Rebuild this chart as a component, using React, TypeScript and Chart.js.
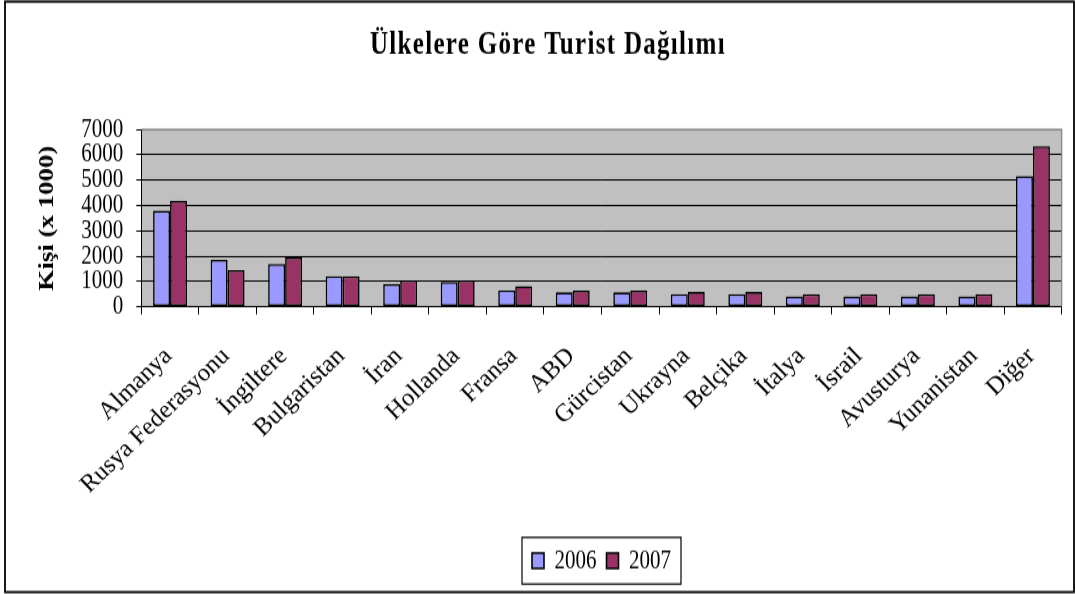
import React, { useEffect, useRef } from 'react';
import { Chart, registerables } from 'chart.js';

Chart.register(...registerables);

const categories = [
  'Almanya', 'Rusya Federasyonu', 'İngiltere', 'Bulgaristan', 'İran', 'Hollanda', 'Fransa', 'ABD',
  'Gürcistan', 'Ukrayna', 'Belçika', 'İtalya', 'İsrail', 'Avusturya', 'Yunanistan', 'Diğer',
];
const values2006 = [3790, 1850, 1690, 1210, 900, 980, 650, 570, 570, 500, 500, 410, 410, 410, 410, 5160];
const values2007 = [4180, 1450, 1950, 1210, 1040, 1040, 815, 645, 645, 580, 580, 500, 500, 500, 500, 6330];
const seriesLabels = ['2006', '2007'];
const yTicks = { min: 0, max: 7000, step: 1000 };
const titleText = 'Ülkelere Göre Turist Dağılımı';
const yTitleText = 'Kişi (x 1000)';

const W = 1075;
const H = 464;
const SY = 594 / H;
const FONT = '"Liberation Serif", "Times New Roman", serif';
const LABEL_ANGLE = (-44 * Math.PI) / 180;

const decorPlugin = {
  id: 'decor',
  beforeDraw(chart: any) {
    const { ctx, chartArea: a } = chart;
    ctx.save();
    ctx.fillStyle = '#ffffff';
    ctx.fillRect(0, 0, chart.width, chart.height);
    ctx.fillStyle = '#C0C0C0';
    ctx.fillRect(a.left, a.top, a.right - a.left, a.bottom - a.top);
    ctx.restore();
  },
  beforeDatasetsDraw(chart: any) {
    const { ctx, chartArea: a } = chart;
    ctx.save();
    ctx.strokeStyle = '#808080';
    ctx.lineWidth = 1.2;
    ctx.beginPath();
    ctx.moveTo(a.left, a.top);
    ctx.lineTo(a.right, a.top);
    ctx.lineTo(a.right, a.bottom);
    ctx.stroke();
    ctx.restore();
  },
  afterDraw(chart: any) {
    const { ctx, chartArea: a } = chart;
    ctx.save();
    ctx.strokeStyle = '#000';
    ctx.lineWidth = 1.8;
    ctx.strokeRect(5, 1.3, 1069, 461.2);
    ctx.fillStyle = '#000';
    ctx.font = `bold 25px ${FONT}`;
    (ctx as any).letterSpacing = '1.3px';
    ctx.textAlign = 'center';
    ctx.textBaseline = 'alphabetic';
    ctx.fillText(titleText, 548, 41.6);
    (ctx as any).letterSpacing = '0px';

    // category labels, rotated (drawn without vertical shear)
    const xs = chart.scales.x;
    const cos = Math.cos(LABEL_ANGLE);
    const sin = Math.sin(LABEL_ANGLE);
    ctx.font = `25px ${FONT}`;
    ctx.textAlign = 'right';
    ctx.textBaseline = 'alphabetic';
    categories.forEach((lab, i) => {
      const px = xs.getPixelForValue(i) + 3;
      const py = a.bottom + 39.3;
      ctx.save();
      ctx.translate(px, py);
      ctx.transform(cos, sin / SY, -sin, cos / SY, 0, 0);
      ctx.fillText(lab, 0, 0);
      ctx.restore();
    });

    const hb = chart.legend && chart.legend.legendHitBoxes;
    if (hb && hb.length) {
      let l = Infinity, r = -Infinity, t = Infinity, b = -Infinity;
      hb.forEach((h: any) => {
        l = Math.min(l, h.left);
        r = Math.max(r, h.left + h.width);
        t = Math.min(t, h.top);
        b = Math.max(b, h.top + h.height);
      });
      ctx.lineWidth = 1.2;
      ctx.strokeStyle = '#000';
      ctx.strokeRect(l - 10, t - 7.7, r - l + 20, b - t + 15.4);
    }
    ctx.restore();
  },
};

export default function App() {
  const ref = useRef<HTMLCanvasElement>(null);
  useEffect(() => {
    document.body.style.margin = '0';
    const chart = new Chart(ref.current as HTMLCanvasElement, {
      type: 'bar',
      data: {
        labels: categories,
        datasets: [
          {
            label: seriesLabels[0],
            data: values2006,
            backgroundColor: '#9999FF',
            borderColor: '#000',
            borderWidth: 1.6,
            borderSkipped: false,
          },
          {
            label: seriesLabels[1],
            data: values2007,
            backgroundColor: '#993366',
            borderColor: '#000',
            borderWidth: 1.6,
            borderSkipped: false,
          },
        ],
      },
      options: {
        animation: false,
        responsive: true,
        maintainAspectRatio: false,
        events: [],
        datasets: { bar: { categoryPercentage: 0.59, barPercentage: 1.0 } },
        layout: { padding: { left: 0, right: 13.3, top: 101, bottom: 5.5 } },
        plugins: {
          title: { display: false },
          tooltip: { enabled: false },
          legend: {
            display: true,
            position: 'bottom',
            fullSize: false,
            labels: {
              boxWidth: 12,
              boxHeight: 12,
              padding: 10,
              color: '#000',
              font: { family: FONT, size: 21 },
            },
          },
        },
        scales: {
          x: {
            grid: {
              display: true,
              drawOnChartArea: false,
              drawTicks: true,
              tickLength: 6,
              color: '#000',
              offset: true,
              lineWidth: 1,
            },
            border: { display: true, color: '#000', width: 1 },
            ticks: {
              display: false,
              autoSkip: false,
            },
            afterFit: (s: any) => {
              s.height = 177.9;
            },
          },
          y: {
            min: yTicks.min,
            max: yTicks.max,
            ticks: {
              stepSize: yTicks.step,
              autoSkip: false,
              padding: 13,
              color: '#000',
              font: { family: FONT, size: 21, lineHeight: 0.9 },
              callback: (v: any) => String(v),
            },
            grid: {
              color: (c: any) => (c.tick && c.tick.value === yTicks.max ? '#808080' : '#000'),
              tickColor: '#000',
              tickLength: 5,
              lineWidth: 1,
            },
            border: { display: true, color: '#000', width: 1 },
            title: {
              display: true,
              text: yTitleText,
              color: '#000',
              font: { family: FONT, size: 21, weight: 'bold' },
              padding: { top: 35, bottom: 0 },
            },
            afterFit: (s: any) => {
              s.width = 141.3;
            },
          },
        },
      },
      plugins: [decorPlugin],
    } as any);
    return () => chart.destroy();
  }, []);

  return (
    <div
      style={{
        position: 'absolute',
        left: 0,
        top: 0,
        width: W,
        height: H,
        transform: `scaleY(${SY})`,
        transformOrigin: '0 0',
      }}
    >
      <canvas ref={ref} />
    </div>
  );
}
